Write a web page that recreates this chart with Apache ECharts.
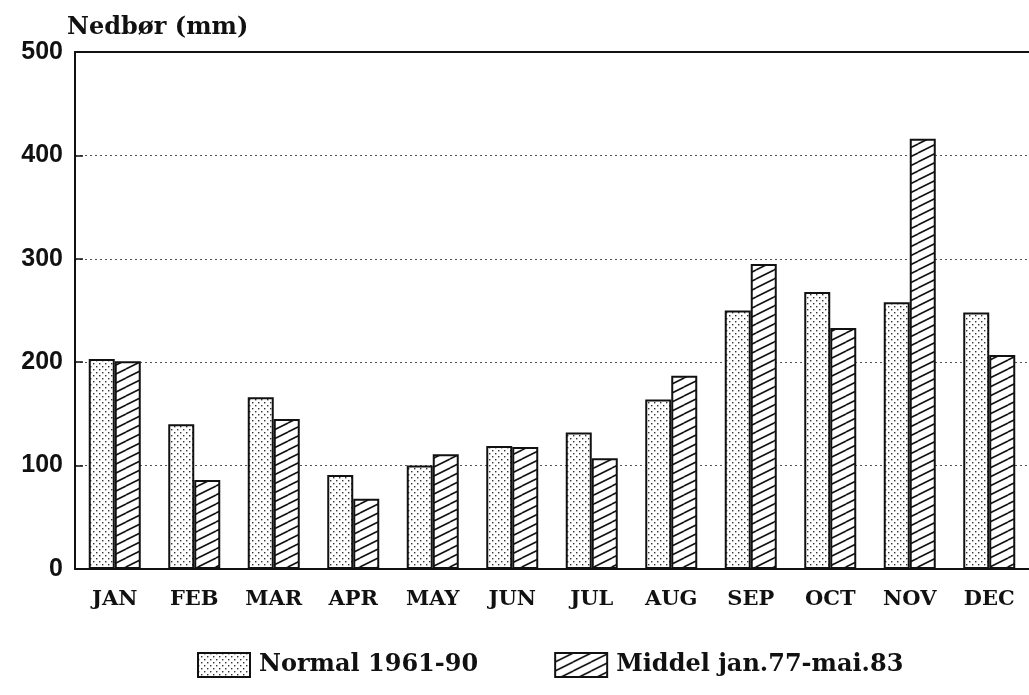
<!DOCTYPE html>
<html>
<head>
<meta charset="utf-8">
<script src="https://cdn.jsdelivr.net/npm/echarts@6/dist/echarts.min.js"></script>
<style>
  html, body { margin: 0; padding: 0; background: #fff; }
  #chart { width: 1029px; height: 695px; }
</style>
</head>
<body>
<div id="chart"></div>
<script>
const months = ['JAN', 'FEB', 'MAR', 'APR', 'MAY', 'JUN', 'JUL', 'AUG', 'SEP', 'OCT', 'NOV', 'DEC']

// Normal 1961-90
const normal = [203, 140, 166, 91, 100, 119, 132, 164, 250, 268, 258, 248]

// Middel jan.77-mai.83
const middel = [201, 86, 145, 68, 111, 118, 107, 187, 295, 233, 416, 207]

const serif = '"DejaVu Serif", "Liberation Serif", serif'
const sans = '"Liberation Sans", Arial, sans-serif'

// dotted fill
function dotPattern() {
  const c = document.createElement('canvas')
  c.width = 6
  c.height = 6
  const ctx = c.getContext('2d')
  ctx.fillStyle = '#fff'
  ctx.fillRect(0, 0, 6, 6)
  ctx.fillStyle = '#333'
  ctx.fillRect(0, 0, 1.4, 1.4)
  ctx.fillRect(3, 3, 1.4, 1.4)
  return c
}

// hatch: lines from bottom-left to top-right, slope 0.5
function hatchPattern() {
  const w = 18
  const h = 9
  const c = document.createElement('canvas')
  c.width = w
  c.height = h
  const ctx = c.getContext('2d')
  ctx.fillStyle = '#fff'
  ctx.fillRect(0, 0, w, h)
  ctx.strokeStyle = '#111'
  ctx.lineWidth = 1.6
  ctx.beginPath()
  for (let k = -1; k <= 1; k++) {
    ctx.moveTo(0, h + k * h)
    ctx.lineTo(w, k * h)
  }
  ctx.stroke()
  return c
}

echarts.init(document.getElementById('chart')).setOption({
  animation: false,
  grid: {
    left: 75,
    right: 0,
    top: 52,
    bottom: 126,
  },
  legend: {
    bottom: 12,
    left: 192,
    icon: 'rect',
    itemWidth: 52,
    itemHeight: 24,
    itemGap: 76,
    textStyle: {
      fontFamily: serif,
      fontWeight: 'bold',
      fontSize: 24,
      color: '#111',
      padding: [0, 0, 0, 4],
    },
    data: ['Normal 1961-90', 'Middel jan.77-mai.83'],
  },
  xAxis: [
    {
      type: 'category',
      data: months,
      axisLine: { lineStyle: { color: '#111', width: 2 } },
      axisTick: { show: false },
      axisLabel: {
        interval: 0,
        fontFamily: serif,
        fontWeight: 'bold',
        fontSize: 21,
        color: '#111',
        margin: 20,
      },
    },
    {
      type: 'category',
      position: 'top',
      data: months,
      axisLine: { show: true, lineStyle: { color: '#111', width: 2 } },
      axisTick: { show: false },
      axisLabel: { show: false },
    },
  ],
  yAxis: {
    type: 'value',
    min: 0,
    max: 500,
    interval: 100,
    name: 'Nedbør (mm)',
    nameLocation: 'end',
    nameGap: 12,
    nameTextStyle: {
      fontFamily: serif,
      fontWeight: 'bold',
      fontSize: 24,
      color: '#111',
      align: 'left',
      padding: [0, 0, 0, -8],
    },
    axisLine: { show: true, lineStyle: { color: '#111', width: 2 } },
    axisTick: { show: true, inside: true, length: 8, lineStyle: { color: '#111', width: 1.5 } },
    axisLabel: {
      fontFamily: sans,
      fontWeight: 'bold',
      fontSize: 25,
      color: '#111',
      margin: 12,
    },
    splitLine: {
      show: true,
      lineStyle: { color: '#555', type: [2, 3], width: 1 },
    },
  },
  series: [
    {
      name: 'Normal 1961-90',
      type: 'bar',
      data: normal,
      barWidth: 26,
      barGap: '0%',
      itemStyle: {
        color: { image: dotPattern(), repeat: 'repeat' },
        borderColor: '#111',
        borderWidth: 2,
      },
    },
    {
      name: 'Middel jan.77-mai.83',
      type: 'bar',
      data: middel,
      barWidth: 26,
      barGap: '0%',
      itemStyle: {
        color: { image: hatchPattern(), repeat: 'repeat' },
        borderColor: '#111',
        borderWidth: 2,
      },
    },
  ],
})
</script>
</body>
</html>
